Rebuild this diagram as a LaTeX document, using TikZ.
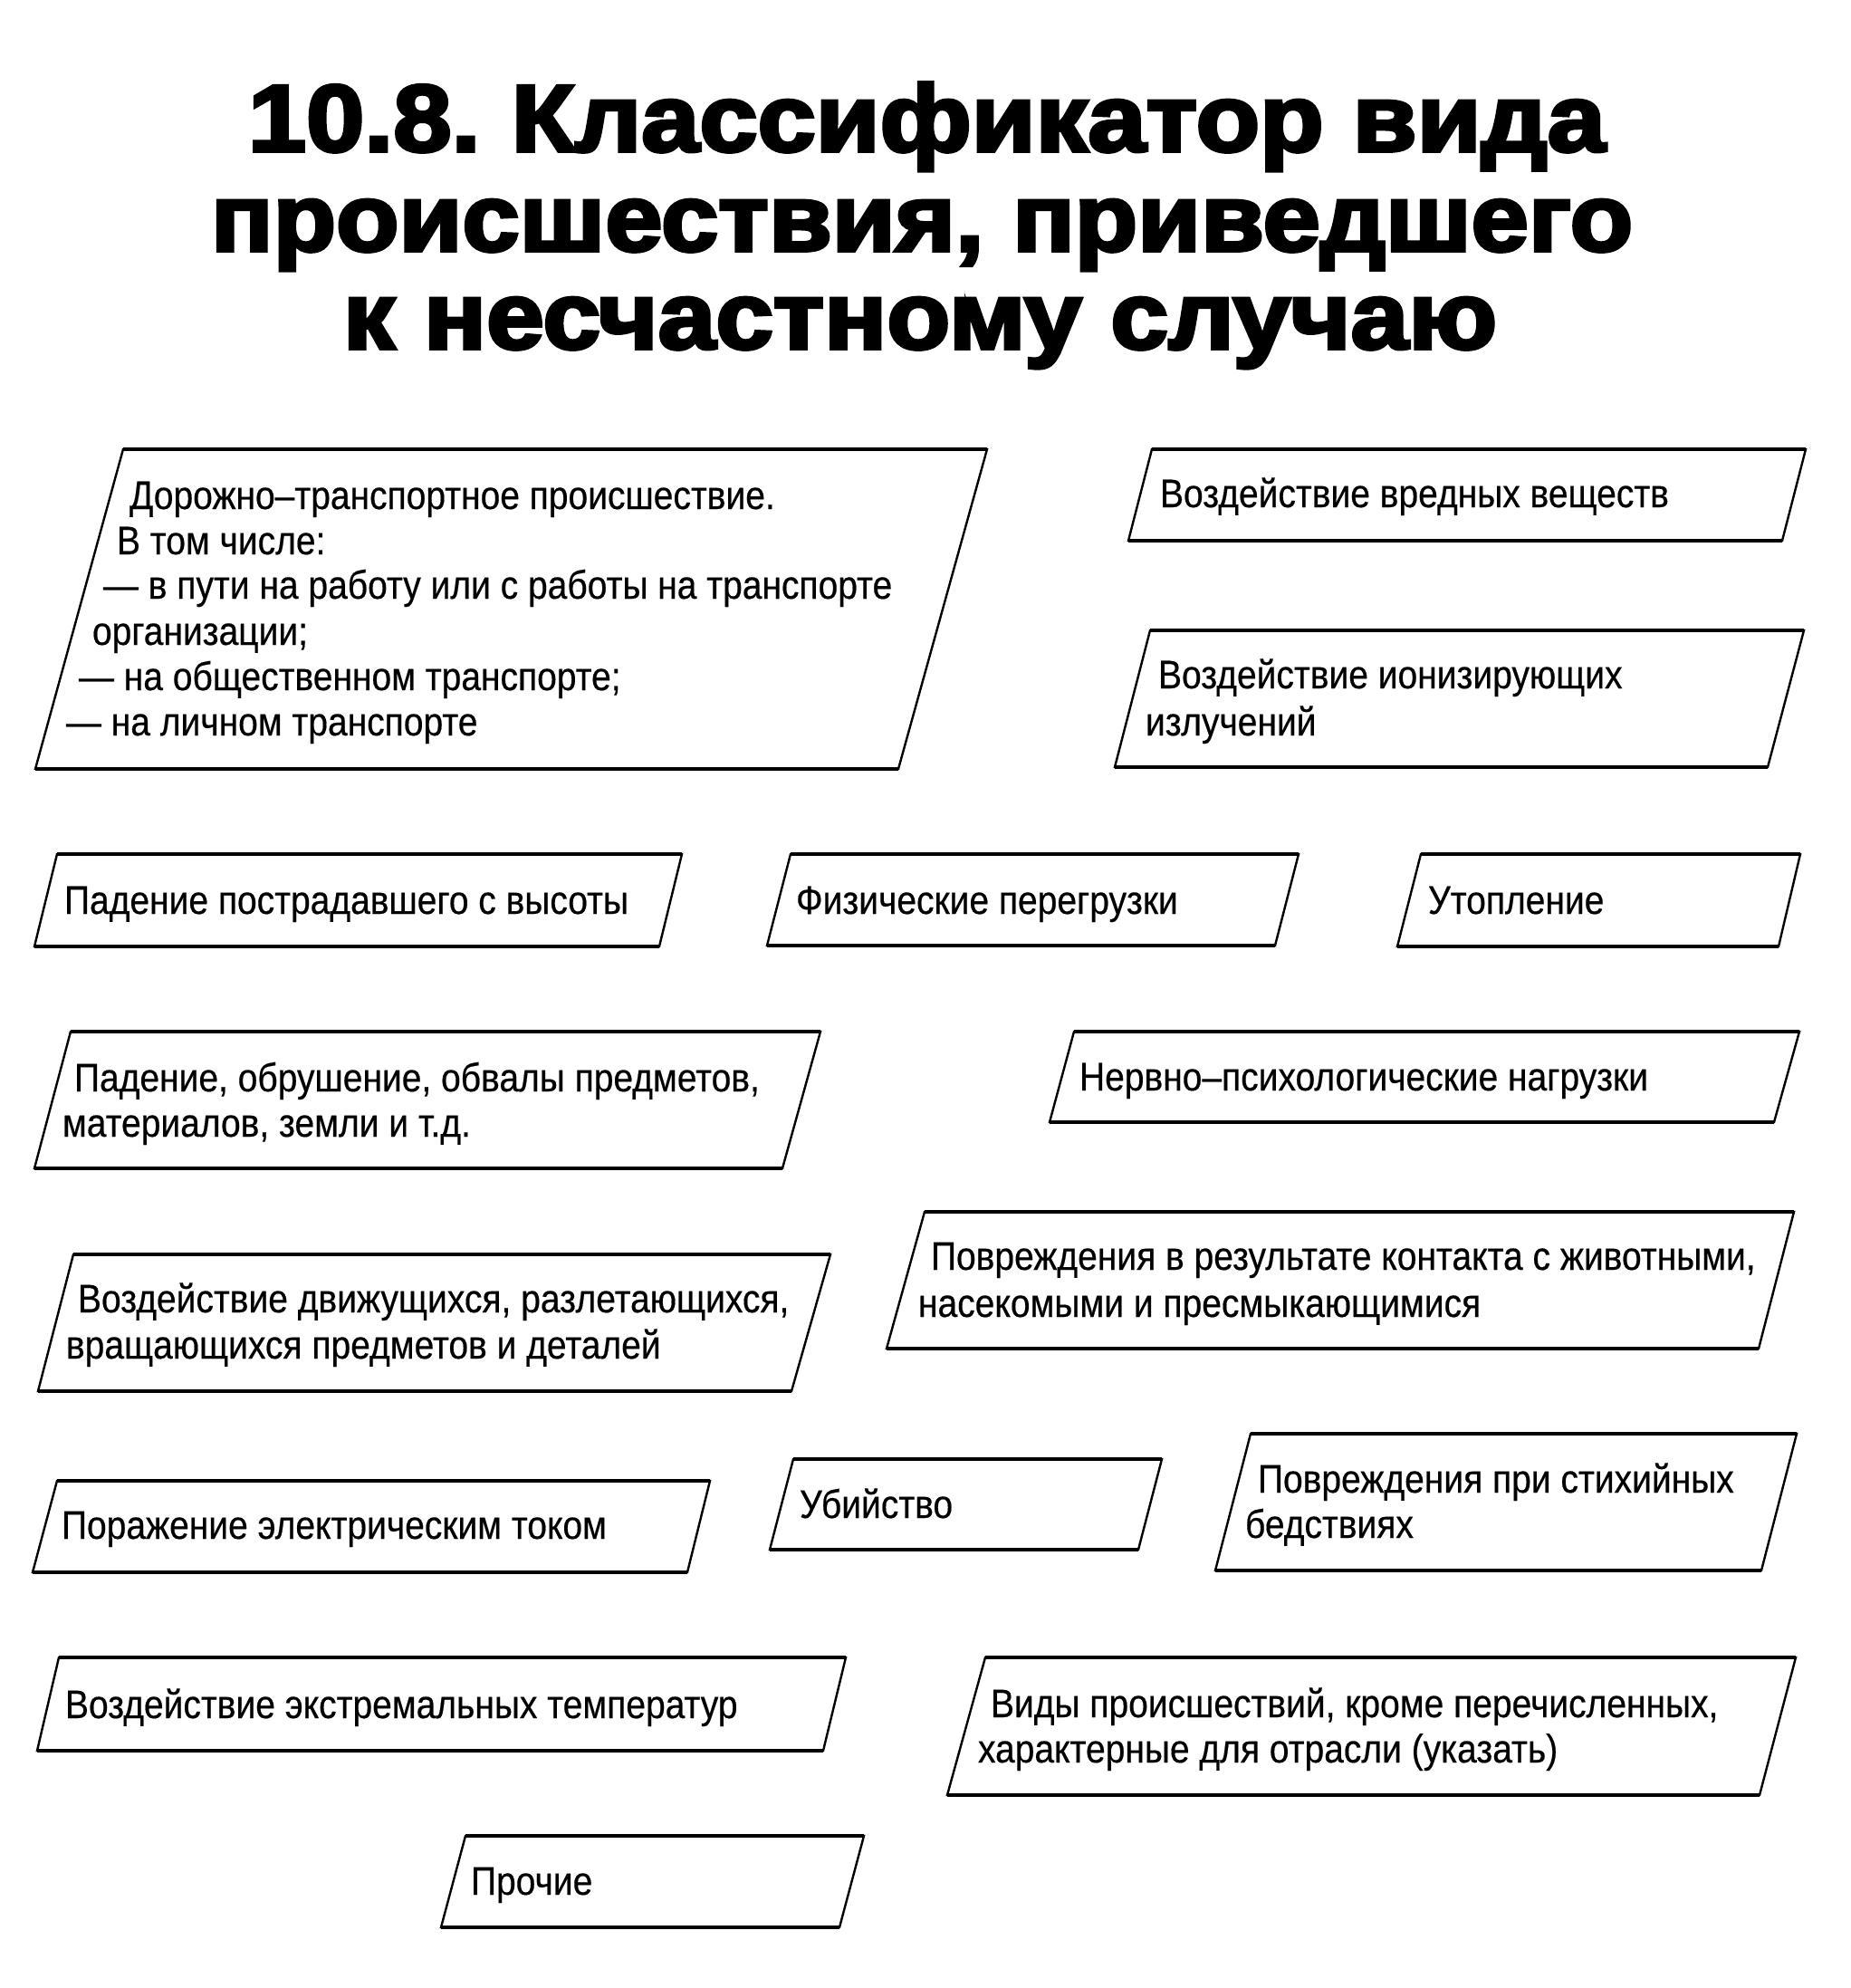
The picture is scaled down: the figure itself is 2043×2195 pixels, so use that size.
\documentclass[tikz,border=0pt]{standalone}
\usepackage{fontspec}
\usepackage{graphicx}
\newfontfamily\bodyfont[FakeStretch=0.886,FakeBold=0.4]{Liberation Sans}
\newfontfamily\titlefont[BoldFeatures={FakeBold=3.5}]{Liberation Sans}
\tikzset{
  frame/.style={draw=black, line width=2.4pt, line join=miter},
  hedge/.style={draw=black, line width=4pt, line cap=butt},
  txt/.style={anchor=base west, inner sep=0pt, outer sep=0pt, font=\bodyfont\fontsize{44}{50}\selectfont},
  ttl/.style={anchor=base west, inner sep=0pt, outer sep=0pt, font=\titlefont\bfseries\fontsize{105}{110}\selectfont}
}
\newcommand\pgram[7]{%
  \coordinate (#1-tl) at (#2,#4);
  \coordinate (#1-tr) at (#3,#4);
  \coordinate (#1-bl) at (#5,#7);
  \coordinate (#1-br) at (#6,#7);
  \draw[frame] (#1-tl) -- (#1-tr) -- (#1-br) -- (#1-bl) -- cycle;
  \draw[hedge] (#1-tl) -- (#1-tr);
  \draw[hedge] (#1-bl) -- (#1-br);
}
\begin{document}
\begin{tikzpicture}[x=1pt,y=-1pt]
\fill[white] (0,0) rectangle (2043,2195);
\useasboundingbox (0,0) rectangle (2043,2195);

% Title
\node[ttl] (title1) at (274,167) {\resizebox{1499pt}{\height}{10.8.\kern-8pt{} Классификатор вида}};
\node[ttl] (title2) at (233,277) {\resizebox{1570pt}{\height}{происшествия, приведшего}};
\node[ttl] (title3) at (379,385) {\resizebox{1274pt}{\height}{к несчастному случаю}};

% Boxes
\pgram{b1}{136}{1090}{496}{39}{992}{849}
\pgram{b2}{1272}{1994}{496}{1246}{1968}{597}
\pgram{b3}{1270}{1992}{696}{1231}{1952}{847}
\pgram{b4}{63}{753}{943}{38}{728}{1045}
\pgram{b5}{873}{1434}{943}{847}{1408}{1044}
\pgram{b6}{1569}{1988}{943}{1543}{1964}{1045}
\pgram{b7}{78}{906}{1139}{38}{864}{1290}
\pgram{b8}{1186}{1987}{1139}{1159}{1959}{1239}
\pgram{b9}{81}{917}{1385}{42}{874}{1536}
\pgram{b10}{1021}{1981}{1338}{979}{1942}{1489}
\pgram{b11}{63}{784}{1635}{36}{759}{1736}
\pgram{b12}{876}{1283}{1611}{850}{1257}{1711}
\pgram{b13}{1381}{1984}{1583}{1342}{1945}{1734}
\pgram{b14}{65}{934}{1830}{41}{909}{1933}
\pgram{b15}{1088}{1983}{1830}{1046}{1943}{1982}
\pgram{b16}{514}{954}{2027}{487}{927}{2128}

% Texts
\node[txt] (t1a) at (143,562) {Дорожно–транспортное происшествие.};
\node[txt] (t1b) at (129,612) {В том числе:};
\node[txt] (t1c) at (114,661) {— в пути на работу или с работы на транспорте};
\node[txt] (t1d) at (102,712) {организации;};
\node[txt] (t1e) at (87,762) {— на общественном транспорте;};
\node[txt] (t1f) at (73,812) {— на личном транспорте};

\node[txt] (t2) at (1281,560) {Воздействие вредных веществ};

\node[txt] (t3a) at (1279,760) {Воздействие ионизирующих};
\node[txt] (t3b) at (1265,812) {излучений};

\node[txt] (t4) at (71,1009) {Падение пострадавшего с высоты};
\node[txt] (t5) at (879,1009) {Физические перегрузки};
\node[txt] (t6) at (1577,1009) {Утопление};

\node[txt] (t7a) at (82,1205) {Падение, обрушение, обвалы предметов,};
\node[txt] (t7b) at (69,1255) {материалов, земли и т.д.};

\node[txt] (t8) at (1192,1204) {Нервно–психологические нагрузки};

\node[txt] (t9a) at (86,1449) {Воздействие движущихся, разлетающихся,};
\node[txt] (t9b) at (73,1500) {вращающихся предметов и деталей};

\node[txt] (t10a) at (1028,1402) {Повреждения в результате контакта с животными,};
\node[txt] (t10b) at (1014,1454) {насекомыми и пресмыкающимися};

\node[txt] (t11) at (68,1699) {Поражение электрическим током};
\node[txt] (t12) at (883,1676) {Убийство};

\node[txt] (t13a) at (1389,1648) {Повреждения при стихийных};
\node[txt] (t13b) at (1375,1698) {бедствиях};

\node[txt] (t14) at (72,1897) {Воздействие экстремальных температур};

\node[txt] (t15a) at (1094,1896) {Виды происшествий, кроме перечисленных,};
\node[txt] (t15b) at (1080,1946) {характерные для отрасли (указать)};

\node[txt] (t16) at (520,2092) {Прочие};
\end{tikzpicture}
\end{document}
